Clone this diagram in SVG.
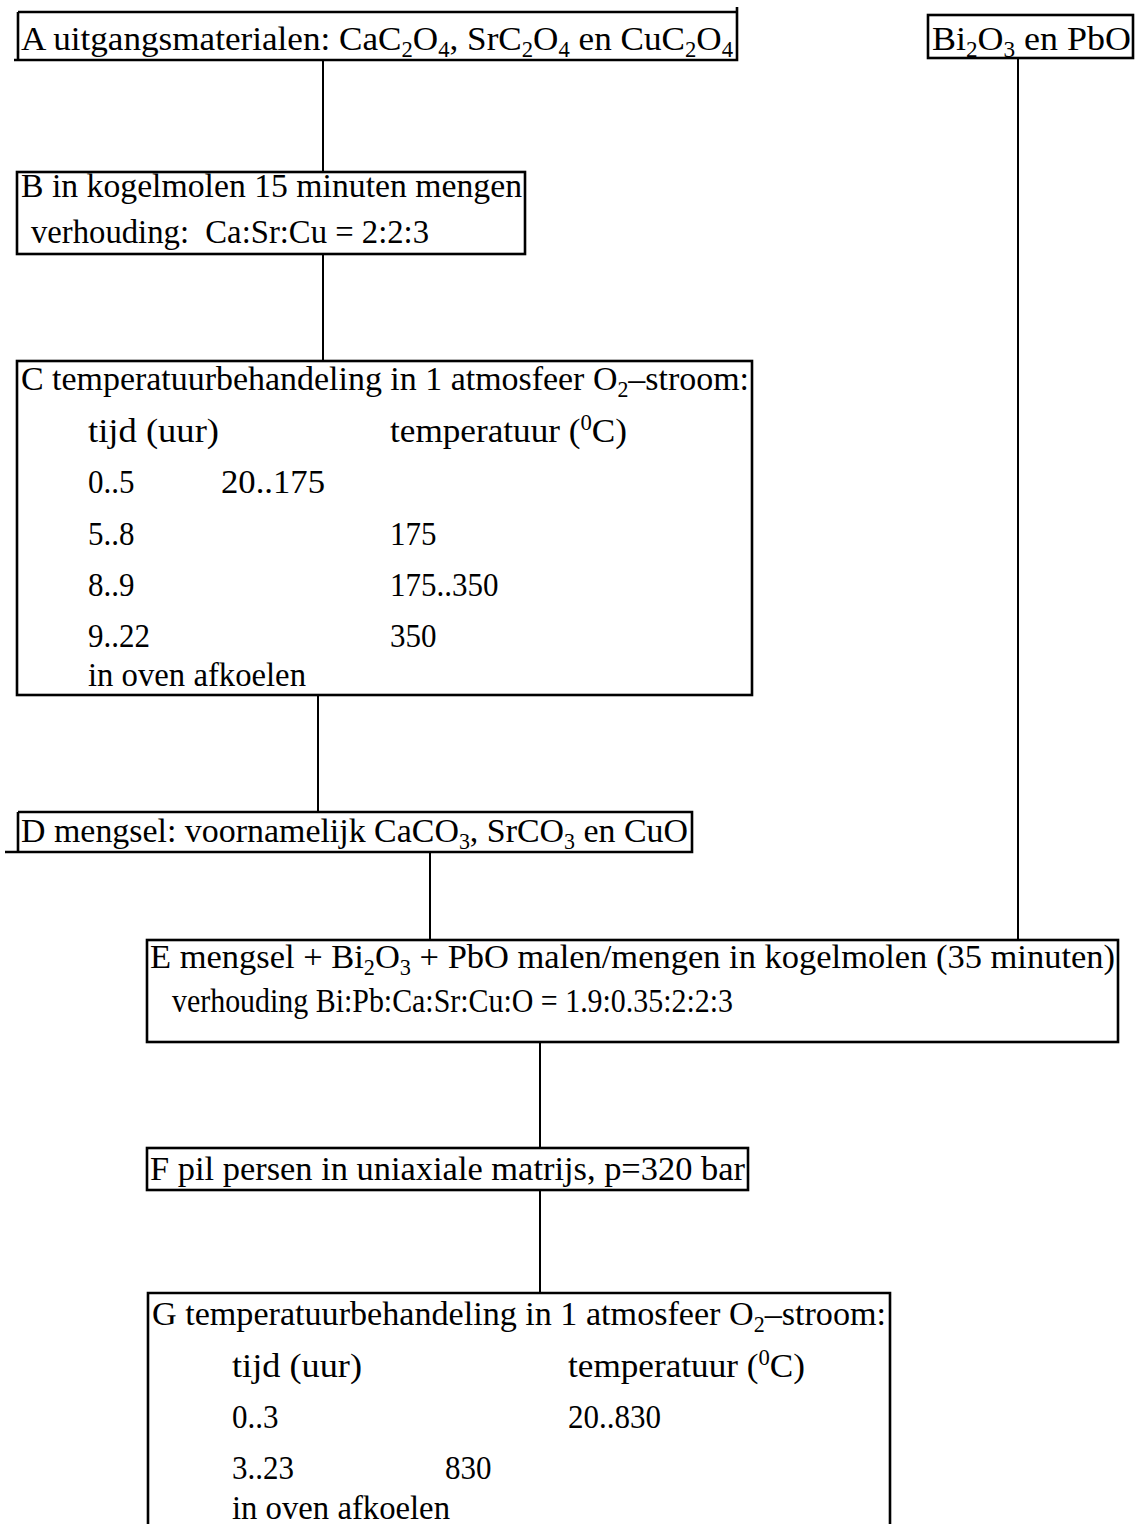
<svg xmlns="http://www.w3.org/2000/svg" width="1139" height="1524" viewBox="0 0 1139 1524">
<style>
.bx{fill:none;stroke:#000;stroke-width:2.6}
.cn{fill:none;stroke:#000;stroke-width:2}
text{font-family:"Liberation Serif","DejaVu Serif",serif;font-size:31px;fill:#000}
.sb{font-size:20px}
</style>
<rect width="1139" height="1524" fill="#fff"/>
<g id="connectors">
<line class="cn" x1="323" y1="60" x2="323" y2="172"/>
<line class="cn" x1="323" y1="254" x2="323" y2="361"/>
<line class="cn" x1="318" y1="695" x2="318" y2="812"/>
<line class="cn" x1="430" y1="852" x2="430" y2="940"/>
<line class="cn" x1="1018" y1="58" x2="1018" y2="940"/>
<line class="cn" x1="540" y1="1042" x2="540" y2="1148"/>
<line class="cn" x1="540" y1="1190" x2="540" y2="1293"/>
</g>
<g id="nodeA">
<path class="bx" d="M18,12 H737 V60 H14 M18,12 V60 M737,12 V7"/>
<text transform="translate(21,50) scale(1,1.12)" textLength="712" lengthAdjust="spacingAndGlyphs">A uitgangsmaterialen: CaC<tspan class="sb" dy="6">2</tspan><tspan dy="-6">O</tspan><tspan class="sb" dy="6">4</tspan><tspan dy="-6">, SrC</tspan><tspan class="sb" dy="6">2</tspan><tspan dy="-6">O</tspan><tspan class="sb" dy="6">4</tspan><tspan dy="-6"> en CuC</tspan><tspan class="sb" dy="6">2</tspan><tspan dy="-6">O</tspan><tspan class="sb" dy="6">4</tspan></text>
</g>
<g id="nodeBiPb">
<rect class="bx" x="928" y="15" width="205" height="43"/>
<text transform="translate(932,50) scale(1,1.12)" textLength="199" lengthAdjust="spacingAndGlyphs">Bi<tspan class="sb" dy="6">2</tspan><tspan dy="-6">O</tspan><tspan class="sb" dy="6">3</tspan><tspan dy="-6"> en PbO</tspan></text>
</g>
<g id="nodeB">
<rect class="bx" x="17" y="172" width="508" height="82"/>
<text transform="translate(21,197) scale(1,1.12)" textLength="501" lengthAdjust="spacingAndGlyphs">B in kogelmolen 15 minuten mengen</text>
<text transform="translate(31,243) scale(1,1.12)" textLength="398" lengthAdjust="spacingAndGlyphs">verhouding:&#160; Ca:Sr:Cu = 2:2:3</text>
</g>
<g id="nodeC">
<rect class="bx" x="17" y="361" width="735" height="334"/>
<text transform="translate(21,390) scale(1,1.12)" textLength="728" lengthAdjust="spacingAndGlyphs">C temperatuurbehandeling in 1 atmosfeer O<tspan class="sb" dy="6">2</tspan><tspan dy="-6">–stroom:</tspan></text>
<text transform="translate(88,442) scale(1,1.12)" textLength="131" lengthAdjust="spacingAndGlyphs">tijd (uur)</text>
<text transform="translate(390,442) scale(1,1.12)" textLength="237" lengthAdjust="spacingAndGlyphs">temperatuur (<tspan class="sb" dy="-11">0</tspan><tspan dy="11">C)</tspan></text>
<text transform="translate(88,493) scale(1,1.12)">0..5</text>
<text transform="translate(221,493) scale(1,1.12)" textLength="104" lengthAdjust="spacingAndGlyphs">20..175</text>
<text transform="translate(88,545) scale(1,1.12)">5..8</text>
<text transform="translate(390,545) scale(1,1.12)">175</text>
<text transform="translate(88,596) scale(1,1.12)">8..9</text>
<text transform="translate(390,596) scale(1,1.12)">175..350</text>
<text transform="translate(88,647) scale(1,1.12)">9..22</text>
<text transform="translate(390,647) scale(1,1.12)">350</text>
<text transform="translate(88,686) scale(1,1.12)" textLength="218" lengthAdjust="spacingAndGlyphs">in oven afkoelen</text>
</g>
<g id="nodeD">
<path class="bx" d="M18,812 H692 V852 H5 M18,812 V852"/>
<text transform="translate(21,842) scale(1,1.12)" textLength="667" lengthAdjust="spacingAndGlyphs">D mengsel: voornamelijk CaCO<tspan class="sb" dy="6">3</tspan><tspan dy="-6">, SrCO</tspan><tspan class="sb" dy="6">3</tspan><tspan dy="-6"> en CuO</tspan></text>
</g>
<g id="nodeE">
<rect class="bx" x="147" y="940" width="971" height="102"/>
<text transform="translate(150,968) scale(1,1.12)" textLength="965" lengthAdjust="spacingAndGlyphs">E mengsel + Bi<tspan class="sb" dy="6">2</tspan><tspan dy="-6">O</tspan><tspan class="sb" dy="6">3</tspan><tspan dy="-6"> + PbO malen/mengen in kogelmolen (35 minuten)</tspan></text>
<text transform="translate(172,1012) scale(1,1.12)" textLength="561" lengthAdjust="spacingAndGlyphs">verhouding Bi:Pb:Ca:Sr:Cu:O = 1.9:0.35:2:2:3</text>
</g>
<g id="nodeF">
<rect class="bx" x="147" y="1148" width="601" height="42"/>
<text transform="translate(150,1180) scale(1,1.12)" textLength="595" lengthAdjust="spacingAndGlyphs">F pil persen in uniaxiale matrijs, p=320 bar</text>
</g>
<g id="nodeG">
<path class="bx" d="M148,1524 V1293 H890 V1524"/>
<text transform="translate(152,1325) scale(1,1.12)" textLength="734" lengthAdjust="spacingAndGlyphs">G temperatuurbehandeling in 1 atmosfeer O<tspan class="sb" dy="6">2</tspan><tspan dy="-6">–stroom:</tspan></text>
<text transform="translate(232,1377) scale(1,1.12)" textLength="130" lengthAdjust="spacingAndGlyphs">tijd (uur)</text>
<text transform="translate(568,1377) scale(1,1.12)" textLength="237" lengthAdjust="spacingAndGlyphs">temperatuur (<tspan class="sb" dy="-11">0</tspan><tspan dy="11">C)</tspan></text>
<text transform="translate(232,1428) scale(1,1.12)">0..3</text>
<text transform="translate(568,1428) scale(1,1.12)">20..830</text>
<text transform="translate(232,1479) scale(1,1.12)">3..23</text>
<text transform="translate(445,1479) scale(1,1.12)">830</text>
<text transform="translate(232,1519) scale(1,1.12)" textLength="218" lengthAdjust="spacingAndGlyphs">in oven afkoelen</text>
</g>
</svg>
